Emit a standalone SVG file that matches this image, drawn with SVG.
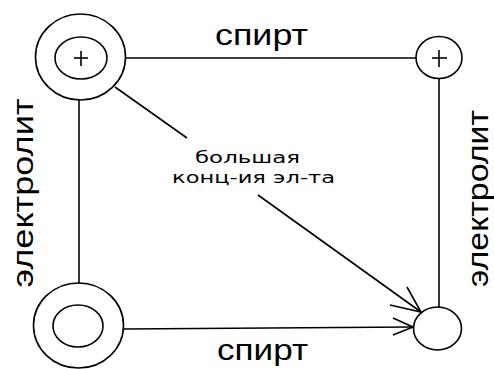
<svg xmlns="http://www.w3.org/2000/svg" width="494" height="369" viewBox="0 0 494 369">
<defs>
<style>
.ln{stroke:#000;stroke-width:1.6;fill:none}
.nd{stroke:#000;stroke-width:1.6;fill:#fff}
.big{font-family:"Liberation Sans","DejaVu Sans",sans-serif;font-size:30px;fill:#000}
.sm{font-family:"DejaVu Sans","Liberation Sans",sans-serif;font-size:15px;fill:#000}
</style>
</defs>
<rect width="494" height="369" fill="#fff"/>
<g id="connectors">
<line class="ln" x1="126" y1="58" x2="416" y2="58"/>
<line class="ln" x1="79" y1="100" x2="79" y2="283"/>
<line class="ln" x1="439" y1="79" x2="439" y2="307"/>
<line class="ln" x1="124" y1="329" x2="413" y2="327"/>
<polyline class="ln" points="393,318 413,327 393,335"/>
<line class="ln" x1="115" y1="87" x2="187" y2="138"/>
<line class="ln" x1="258" y1="195" x2="421" y2="312"/>
<polyline class="ln" points="407,287 421,312 390,305"/>
</g>
<g id="node-top-left">
<ellipse class="nd" cx="80.5" cy="57" rx="45" ry="43"/>
<ellipse class="nd" cx="81" cy="58" rx="26" ry="21"/>
<line class="ln" x1="74" y1="58" x2="88" y2="58"/>
<line class="ln" x1="81" y1="51" x2="81" y2="66"/>
</g>
<g id="node-top-right">
<ellipse class="nd" cx="439" cy="57.5" rx="23" ry="21"/>
<line class="ln" x1="432" y1="58" x2="447" y2="58"/>
<line class="ln" x1="439" y1="50" x2="439" y2="67"/>
</g>
<g id="node-bottom-left">
<ellipse class="nd" cx="78.5" cy="325.5" rx="45" ry="42.5"/>
<ellipse class="nd" cx="78" cy="326" rx="25" ry="21"/>
</g>
<g id="node-bottom-right">
<ellipse class="nd" cx="437.5" cy="328.5" rx="24" ry="21.5"/>
</g>
<g id="labels">
<text class="big" x="215" y="45" textLength="93" lengthAdjust="spacingAndGlyphs">спирт</text>
<text class="big" x="217" y="360" textLength="91" lengthAdjust="spacingAndGlyphs">спирт</text>
<text class="big" transform="translate(33,193) rotate(-90)" text-anchor="middle" textLength="189" lengthAdjust="spacingAndGlyphs">электролит</text>
<text class="big" transform="translate(488,198.5) rotate(-90)" text-anchor="middle" textLength="177" lengthAdjust="spacingAndGlyphs">электролит</text>
<text class="sm" x="195" y="163" textLength="105" lengthAdjust="spacingAndGlyphs">большая</text>
<text class="sm" x="172" y="183" textLength="163" lengthAdjust="spacingAndGlyphs">конц-ия эл-та</text>
</g>
</svg>
